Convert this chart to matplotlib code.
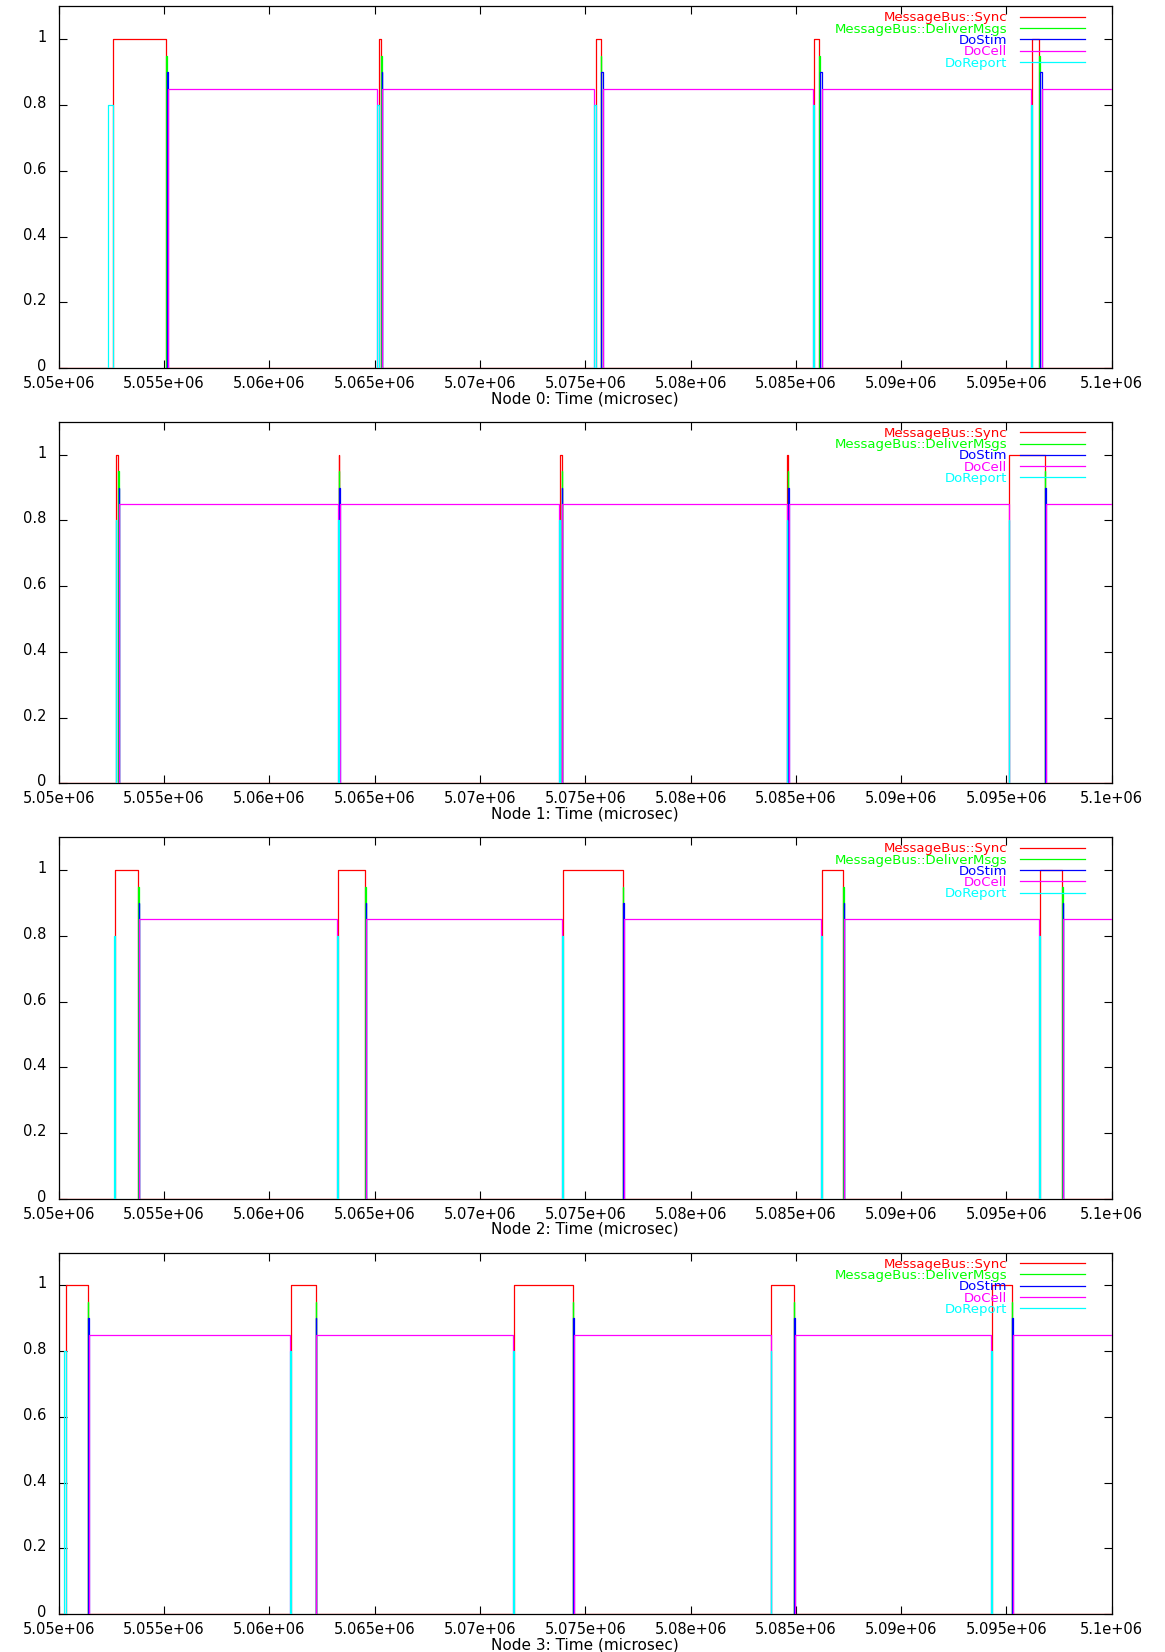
import numpy as np
import matplotlib
matplotlib.use("Agg")
import matplotlib.pyplot as plt
from matplotlib.ticker import FuncFormatter
from matplotlib.transforms import ScaledTranslation

# ---------------- data (times in microseconds) ----------------
labels = ["MessageBus::Sync", "MessageBus::DeliverMsgs", "DoStim", "DoCell", "DoReport"]
levels = [1.0, 0.95, 0.9, 0.85, 0.8]
colors = ["#ff0000", "#00ff00", "#0000ff", "#ff00ff", "#00ffff"]
x_range = [5.05e6, 5.1e6]
x_ticks = [5.05e6, 5.055e6, 5.06e6, 5.065e6, 5.07e6, 5.075e6, 5.08e6, 5.085e6, 5.09e6, 5.095e6, 5.1e6]
y_ticks = [0, 0.2, 0.4, 0.6, 0.8, 1.0]

node0_report = [5052355, 5065127, 5075416, 5085800, 5096165]
node0_sync = [5052564, 5065208, 5075511, 5085862, 5096227]
node0_deliver = [5055095, 5065303, 5075734, 5086099, 5096559]
node0_stim = [5055140, 5065335, 5075772, 5086150, 5096616]
node0_cell = [5055190, 5065375, 5075829, 5086228, 5096673]
node0_cell_end = [5065127, 5075416, 5085800, 5096165, 5101000]

node1_report = [5052703, 5063277, 5073750, 5084595, 5095102]
node1_sync = [5052737, 5063300, 5073784, 5084605, 5095136]
node1_deliver = [5052830, 5063320, 5073885, 5084630, 5096825]
node1_stim = [5052850, 5063333, 5073900, 5084645, 5096842]
node1_cell = [5052872, 5063345, 5073919, 5084663, 5096859]
node1_cell_end = [5063277, 5073750, 5084595, 5095102, 5101000]

node2_report = [5052640, 5063210, 5073919, 5086183, 5096554]
node2_sync = [5052680, 5063243, 5073953, 5086250, 5096588]
node2_deliver = [5053784, 5064561, 5076791, 5087264, 5097635]
node2_stim = [5053800, 5064578, 5076808, 5087281, 5097670]
node2_cell = [5053818, 5064595, 5076824, 5087298, 5097703]
node2_cell_end = [5063210, 5073919, 5086183, 5096554, 5101000]

node3_report = [5050260, 5060980, 5071588, 5083818, 5094291]
node3_sync = [5050340, 5061047, 5071622, 5083835, 5094325]
node3_deliver = [5051385, 5062196, 5074426, 5084899, 5095271]
node3_stim = [5051405, 5062213, 5074443, 5084932, 5095288]
node3_cell = [5051425, 5062230, 5074460, 5084966, 5095305]
node3_cell_end = [5060980, 5071588, 5083818, 5094291, 5101000]

nodes = [
    (node0_report, node0_sync, node0_deliver, node0_stim, node0_cell, node0_cell_end),
    (node1_report, node1_sync, node1_deliver, node1_stim, node1_cell, node1_cell_end),
    (node2_report, node2_sync, node2_deliver, node2_stim, node2_cell, node2_cell_end),
    (node3_report, node3_sync, node3_deliver, node3_stim, node3_cell, node3_cell_end),
]


def pulse_path(starts, ends, level, baseline=False):
    xs, ys = [], []
    if baseline:
        xs.append(x_range[0]); ys.append(0.0)
    for s, e in zip(starts, ends):
        xs += [s, s, e, e]
        ys += [0.0, level, level, 0.0]
        if not baseline:
            xs.append(np.nan); ys.append(np.nan)
    if baseline:
        xs.append(x_range[1]); ys.append(0.0)
    return xs, ys


def gfmt(v, pos):
    return "%g" % v


W, H = 1165, 1652
fig = plt.figure(figsize=(W / 100, H / 100), dpi=100)
fig.patch.set_facecolor("white")

left_px, width_px = 58.7, 1053.0
height_px = 361.6
bottom0_px, step_px = 368.0, 415.4

for k, (rep, syn, dlv, stm, cel, cend) in enumerate(nodes):
    bottom = 1 - (bottom0_px + step_px * k) / H
    ax = fig.add_axes([left_px / W, bottom, width_px / W, height_px / H])
    intervals = [
        (syn, dlv, True),   # Sync
        (dlv, stm, False),  # DeliverMsgs
        (stm, cel, False),  # DoStim
        (cel, cend, False), # DoCell
        (rep, syn, False),  # DoReport
    ]
    handles = []
    for (st, en, base), lev, col, lab in zip(intervals, levels, colors, labels):
        xs, ys = pulse_path(st, en, lev, baseline=base)
        ln, = ax.plot(xs, ys, color=col, lw=0.9, label=lab, zorder=3)
        handles.append(ln)
    ax.set_xlim(x_range)
    ax.set_ylim(0, 1.1)
    ax.set_xticks(x_ticks)
    ax.set_yticks(y_ticks)
    ax.xaxis.set_major_formatter(FuncFormatter(gfmt))
    ax.yaxis.set_major_formatter(FuncFormatter(gfmt))
    ax.tick_params(direction="in", top=True, right=True, length=6, width=0.8,
                   labelsize=10.5)
    ax.tick_params(axis="x", pad=5.8)
    ax.tick_params(axis="y", pad=9)
    shift = ScaledTranslation(0, 3 / 100, fig.dpi_scale_trans)
    for lbl in ax.get_yticklabels():
        lbl.set_transform(lbl.get_transform() + shift)
    for sp in ax.spines.values():
        sp.set_linewidth(0.9)
        sp.set_color("#000000")
    ax.set_xlabel("Node %d: Time (microsec)" % k, fontsize=11, labelpad=0)
    ax.legend(handles=handles, loc="upper right", bbox_to_anchor=(0.9746, 0.986),
              markerfirst=False, frameon=False, fontsize=9.5, labelcolor="linecolor",
              handlelength=4.9, handletextpad=1.0, labelspacing=-0.13,
              borderpad=0, borderaxespad=0)

fig.savefig("out.png", dpi=100, facecolor="white")
